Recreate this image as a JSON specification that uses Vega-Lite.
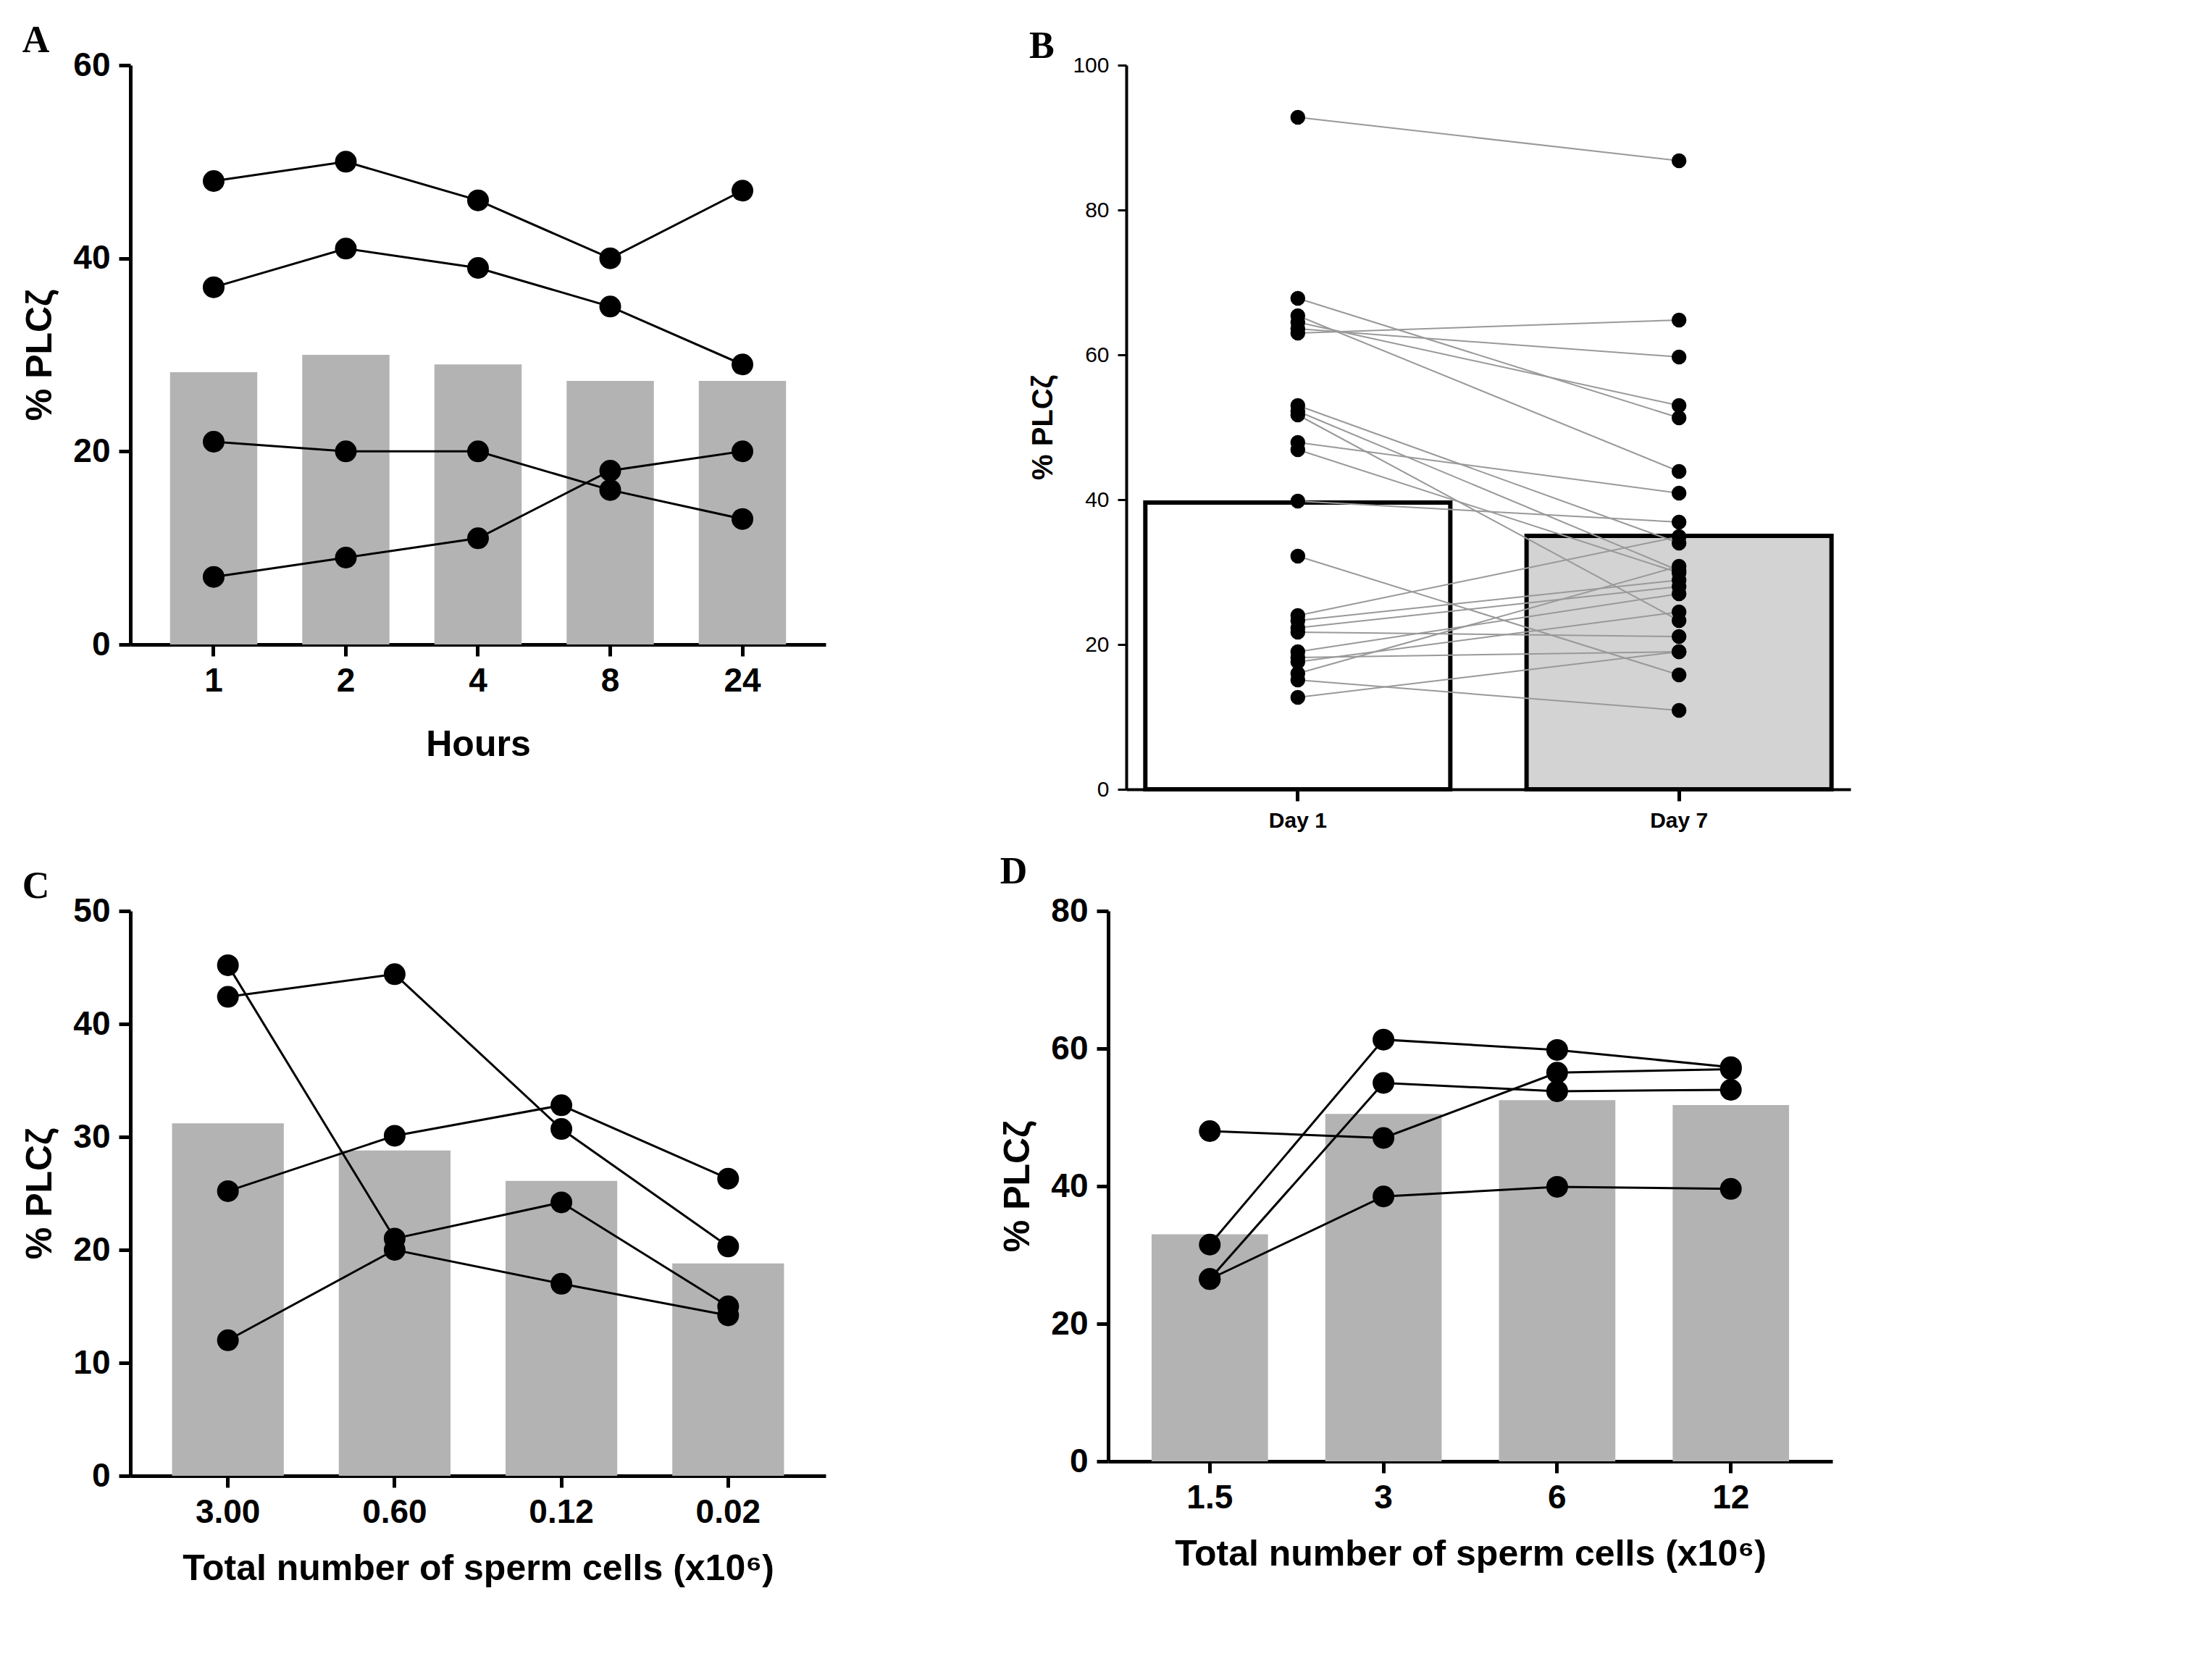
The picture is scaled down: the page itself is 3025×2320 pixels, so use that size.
{
"$schema":"https://vega.github.io/schema/vega-lite/v6.json",
"background":"white",
"padding":{"left":30,"top":30,"right":20,"bottom":10},
"config":{"view":{"stroke":null},"font":"Liberation Sans",
"axis":{"grid":false,"domainColor":"black","domainWidth":5,"tickColor":"black","tickWidth":5,"tickSize":16,"labelFont":"Liberation Sans","labelFontWeight":"bold","labelFontSize":46,"labelColor":"black","titleFont":"Liberation Sans","titleFontWeight":"bold","titleFontSize":50,"titleColor":"black","labelPadding":12},
"title":{"font":"Liberation Serif","fontSize":52,"fontWeight":"bold","anchor":"start","color":"black","frame":"bounds"}},
"datasets":{
"a_bar":[{"h":"1","v":28.2},{"h":"2","v":30},{"h":"4","v":29},{"h":"8","v":27.3},{"h":"24","v":27.3}],
"a_pts":[{"s":1,"h":"1","v":48},{"s":1,"h":"2","v":50},{"s":1,"h":"4","v":46},{"s":1,"h":"8","v":40},{"s":1,"h":"24","v":47},
{"s":2,"h":"1","v":37},{"s":2,"h":"2","v":41},{"s":2,"h":"4","v":39},{"s":2,"h":"8","v":35},{"s":2,"h":"24","v":29},
{"s":3,"h":"1","v":21},{"s":3,"h":"2","v":20},{"s":3,"h":"4","v":20},{"s":3,"h":"8","v":16},{"s":3,"h":"24","v":13},
{"s":4,"h":"1","v":7},{"s":4,"h":"2","v":9},{"s":4,"h":"4","v":11},{"s":4,"h":"8","v":18},{"s":4,"h":"24","v":20}],
"b_bar":[{"d":"Day 1","v":39.6},{"d":"Day 7","v":35}],
"b_pts":[
{"p":1,"d":"Day 1","v":92.8},{"p":1,"d":"Day 7","v":86.8},
{"p":2,"d":"Day 1","v":67.8},{"p":2,"d":"Day 7","v":51.3},
{"p":3,"d":"Day 1","v":65.4},{"p":3,"d":"Day 7","v":43.9},
{"p":4,"d":"Day 1","v":64.5},{"p":4,"d":"Day 7","v":53},
{"p":5,"d":"Day 1","v":63},{"p":5,"d":"Day 7","v":64.8},
{"p":6,"d":"Day 1","v":63.6},{"p":6,"d":"Day 7","v":59.7},
{"p":7,"d":"Day 1","v":53},{"p":7,"d":"Day 7","v":34},
{"p":8,"d":"Day 1","v":52.2},{"p":8,"d":"Day 7","v":30.2},
{"p":9,"d":"Day 1","v":51.7},{"p":9,"d":"Day 7","v":23.3},
{"p":10,"d":"Day 1","v":47.9},{"p":10,"d":"Day 7","v":40.9},
{"p":11,"d":"Day 1","v":46.9},{"p":11,"d":"Day 7","v":29.9},
{"p":12,"d":"Day 1","v":39.8},{"p":12,"d":"Day 7","v":36.9},
{"p":13,"d":"Day 1","v":32.2},{"p":13,"d":"Day 7","v":15.8},
{"p":14,"d":"Day 1","v":24},{"p":14,"d":"Day 7","v":34.9},
{"p":15,"d":"Day 1","v":23.3},{"p":15,"d":"Day 7","v":28.9},
{"p":16,"d":"Day 1","v":22.3},{"p":16,"d":"Day 7","v":28},
{"p":17,"d":"Day 1","v":21.7},{"p":17,"d":"Day 7","v":21.1},
{"p":18,"d":"Day 1","v":19},{"p":18,"d":"Day 7","v":27},
{"p":19,"d":"Day 1","v":18.2},{"p":19,"d":"Day 7","v":19},
{"p":20,"d":"Day 1","v":17.6},{"p":20,"d":"Day 7","v":24.5},
{"p":21,"d":"Day 1","v":16},{"p":21,"d":"Day 7","v":30.8},
{"p":22,"d":"Day 1","v":15.1},{"p":22,"d":"Day 7","v":10.9},
{"p":23,"d":"Day 1","v":12.7},{"p":23,"d":"Day 7","v":19}],
"c_bar":[{"n":"3.00","v":31.2},{"n":"0.60","v":28.8},{"n":"0.12","v":26.1},{"n":"0.02","v":18.8}],
"c_pts":[{"s":1,"n":"3.00","v":42.4},{"s":1,"n":"0.60","v":44.4},{"s":1,"n":"0.12","v":30.7},{"s":1,"n":"0.02","v":20.3},
{"s":2,"n":"3.00","v":45.2},{"s":2,"n":"0.60","v":21},{"s":2,"n":"0.12","v":24.2},{"s":2,"n":"0.02","v":15},
{"s":3,"n":"3.00","v":25.2},{"s":3,"n":"0.60","v":30.1},{"s":3,"n":"0.12","v":32.8},{"s":3,"n":"0.02","v":26.3},
{"s":4,"n":"3.00","v":12},{"s":4,"n":"0.60","v":20},{"s":4,"n":"0.12","v":17},{"s":4,"n":"0.02","v":14.2}],
"d_bar":[{"n":"1.5","v":33},{"n":"3","v":50.5},{"n":"6","v":52.5},{"n":"12","v":51.8}],
"d_pts":[{"s":1,"n":"1.5","v":48},{"s":1,"n":"3","v":47},{"s":1,"n":"6","v":56.5},{"s":1,"n":"12","v":57},
{"s":2,"n":"1.5","v":31.5},{"s":2,"n":"3","v":61.3},{"s":2,"n":"6","v":59.8},{"s":2,"n":"12","v":57.3},
{"s":3,"n":"1.5","v":26.5},{"s":3,"n":"3","v":55},{"s":3,"n":"6","v":53.8},{"s":3,"n":"12","v":54},
{"s":4,"n":"1.5","v":26.5},{"s":4,"n":"3","v":38.5},{"s":4,"n":"6","v":39.9},{"s":4,"n":"12","v":39.6}]
},
"vconcat":[
{"hconcat":[
{"title":{"text":"A","dy":20},"width":960,"height":800,
"layer":[
{"data":{"name":"a_bar"},"mark":{"type":"bar","color":"#b3b3b3"},
"encoding":{"x":{"field":"h","type":"ordinal","sort":["1","2","4","8","24"],"scale":{"paddingInner":0.34,"paddingOuter":0.3},"axis":{"labelAngle":0,"title":"Hours","titlePadding":40}},
"y":{"field":"v","type":"quantitative","scale":{"domain":[0,60]},"axis":{"values":[0,20,40,60],"title":"% PLCζ","titlePadding":20}}}},
{"data":{"name":"a_pts"},"mark":{"type":"line","color":"black","strokeWidth":3},
"encoding":{"x":{"field":"h","type":"ordinal","sort":["1","2","4","8","24"]},"y":{"field":"v","type":"quantitative"},"detail":{"field":"s"}}},
{"data":{"name":"a_pts"},"mark":{"type":"point","filled":true,"color":"black","opacity":1,"size":900},
"encoding":{"x":{"field":"h","type":"ordinal","sort":["1","2","4","8","24"]},"y":{"field":"v","type":"quantitative"}}}
]},
{"title":{"text":"B","dy":20},"width":1000,"height":1000,
"layer":[
{"data":{"name":"b_bar"},"mark":{"type":"bar","stroke":"black","strokeWidth":6},
"encoding":{"x":{"field":"d","type":"ordinal","scale":{"paddingInner":0.2,"paddingOuter":0.05},"axis":{"labelAngle":0,"title":null,"labelFontSize":30,"domainWidth":4}},
"y":{"field":"v","type":"quantitative","scale":{"domain":[0,100]},"axis":{"values":[0,20,40,60,80,100],"labelFontSize":30,"labelFontWeight":"normal","title":"% PLCζ","titleFontSize":40,"domainWidth":4,"tickWidth":3,"tickSize":12,"titlePadding":20}},
"color":{"field":"d","type":"nominal","scale":{"range":["white","#d3d3d3"]},"legend":null}}},
{"data":{"name":"b_pts"},"mark":{"type":"line","color":"#999999","strokeWidth":2},
"encoding":{"x":{"field":"d","type":"ordinal"},"y":{"field":"v","type":"quantitative"},"detail":{"field":"p"}}},
{"data":{"name":"b_pts"},"mark":{"type":"point","filled":true,"color":"black","opacity":1,"size":420},
"encoding":{"x":{"field":"d","type":"ordinal"},"y":{"field":"v","type":"quantitative"}}}
]}
],"spacing":280},
{"hconcat":[
{"title":{"text":"C","dy":20},"width":960,"height":780,
"layer":[
{"data":{"name":"c_bar"},"mark":{"type":"bar","color":"#b3b3b3"},
"encoding":{"x":{"field":"n","type":"ordinal","sort":["3.00","0.60","0.12","0.02"],"scale":{"paddingInner":0.33,"paddingOuter":0.25},"axis":{"labelAngle":0,"title":"Total number of sperm cells (x10⁶)","titlePadding":30}},
"y":{"field":"v","type":"quantitative","scale":{"domain":[0,50]},"axis":{"values":[0,10,20,30,40,50],"title":"% PLCζ","titlePadding":20}}}},
{"data":{"name":"c_pts"},"mark":{"type":"line","color":"black","strokeWidth":3},
"encoding":{"x":{"field":"n","type":"ordinal","sort":["3.00","0.60","0.12","0.02"]},"y":{"field":"v","type":"quantitative"},"detail":{"field":"s"}}},
{"data":{"name":"c_pts"},"mark":{"type":"point","filled":true,"color":"black","opacity":1,"size":900},
"encoding":{"x":{"field":"n","type":"ordinal","sort":["3.00","0.60","0.12","0.02"]},"y":{"field":"v","type":"quantitative"}}}
]},
{"title":{"text":"D","dy":0},"width":1000,"height":760,
"layer":[
{"data":{"name":"d_bar"},"mark":{"type":"bar","color":"#b3b3b3"},
"encoding":{"x":{"field":"n","type":"ordinal","sort":["1.5","3","6","12"],"scale":{"paddingInner":0.33,"paddingOuter":0.25},"axis":{"labelAngle":0,"title":"Total number of sperm cells (x10⁶)","titlePadding":30}},
"y":{"field":"v","type":"quantitative","scale":{"domain":[0,80]},"axis":{"values":[0,20,40,60,80],"title":"% PLCζ","titlePadding":20}}}},
{"data":{"name":"d_pts"},"mark":{"type":"line","color":"black","strokeWidth":3},
"encoding":{"x":{"field":"n","type":"ordinal","sort":["1.5","3","6","12"]},"y":{"field":"v","type":"quantitative"},"detail":{"field":"s"}}},
{"data":{"name":"d_pts"},"mark":{"type":"point","filled":true,"color":"black","opacity":1,"size":900},
"encoding":{"x":{"field":"n","type":"ordinal","sort":["1.5","3","6","12"]},"y":{"field":"v","type":"quantitative"}}}
]}
],"spacing":240}
],"spacing":30}
